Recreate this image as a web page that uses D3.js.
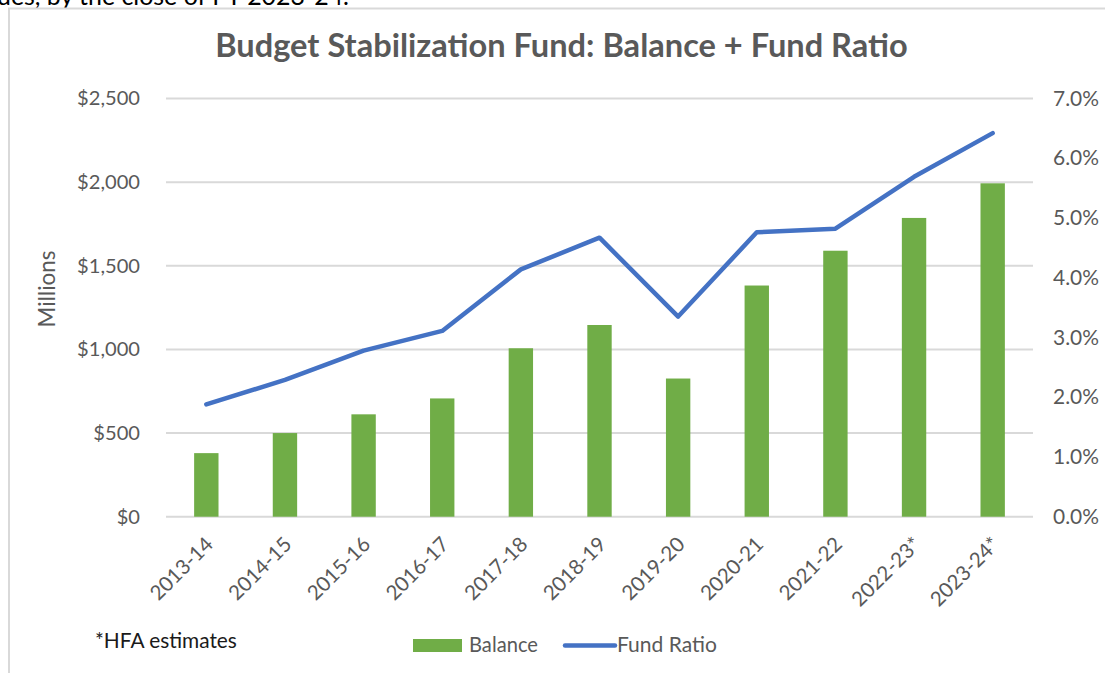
<!DOCTYPE html>
<html>
<head>
<meta charset="utf-8">
<script src="https://cdn.jsdelivr.net/npm/d3@7"></script>
<style>
  html, body { margin: 0; padding: 0; background: #fff; overflow: hidden; }
  svg { display: block; font-family: Lato, "Open Sans", sans-serif; }
</style>
</head>
<body>
<svg id="chart" width="1105" height="673"></svg>
<script>
// ---- data ----
const categories = ["2013-14","2014-15","2015-16","2016-17","2017-18","2018-19","2019-20","2020-21","2021-22","2022-23*","2023-24*"];
const balance = [380, 500, 612, 707, 1007, 1146, 826, 1382, 1590, 1786, 1993];      // $ millions
const fundRatio = [1.88, 2.29, 2.78, 3.11, 4.14, 4.67, 3.35, 4.76, 4.82, 5.69, 6.42]; // percent
const leftTicks = [0, 500, 1000, 1500, 2000, 2500];
const rightTicks = [0, 1, 2, 3, 4, 5, 6, 7];
const titleText = "Budget Stabilization Fund: Balance + Fund Ratio";
const noteText = "*HFA estimates";
const topText = "ues, by the close of FY 2023-24.";

// ---- layout ----
const svg = d3.select("#chart");
const plot = { left: 167, right: 1032, top: 98.5, bottom: 516.7 };
const grey = "#595959", gridCol = "#d9d9d9";
const barCol = "#70ad47", lineCol = "#4472c4";

function fit(sel, w) {
  const n = sel.node();
  const fs = parseFloat(sel.attr("font-size"));
  const cur = n.getComputedTextLength();
  sel.attr("font-size", (fs * w / cur).toFixed(2));
  return sel;
}

// cropped text at top
fit(svg.append("text").attr("x", -3).attr("y", 5).attr("font-size", 22)
  .attr("fill", "#000").text(topText), 352);

// frame
svg.append("path").attr("d", "M9,673 V8.5 H1105").attr("fill", "none")
  .attr("stroke", gridCol).attr("stroke-width", 2);

const x = d3.scaleBand().domain(categories).range([plot.left, plot.right])
  .paddingInner(0.69).paddingOuter(0.345);
const y = d3.scaleLinear().domain([0, 2500]).range([plot.bottom, plot.top]);
const y2 = d3.scaleLinear().domain([0, 7]).range([plot.bottom, plot.top]);

// gridlines
svg.append("g").selectAll("line").data(leftTicks).join("line")
  .attr("x1", plot.left - 1).attr("x2", plot.right + 1)
  .attr("y1", d => y(d)).attr("y2", d => y(d))
  .attr("stroke", gridCol).attr("stroke-width", 2);

// left axis
const fmtL = d => "$" + d3.format(",")(d);
const la = svg.append("g").attr("transform", `translate(${plot.left},0)`)
  .call(d3.axisLeft(y).tickValues(leftTicks).tickFormat(fmtL).tickSize(0).tickPadding(27));
la.select(".domain").remove();
la.selectAll("text").attr("fill", grey).attr("font-size", 20).attr("font-family", "Lato");
{
  const t = la.selectAll("text").filter(d => d === 2500);
  const w = t.node().getComputedTextLength();
  la.selectAll("text").attr("font-size", (20 * 63 / w).toFixed(2));
}

// right axis
const ra = svg.append("g").attr("transform", `translate(${plot.right},0)`)
  .call(d3.axisRight(y2).tickValues(rightTicks).tickFormat(d => d.toFixed(1) + "%").tickSize(0).tickPadding(21));
ra.select(".domain").remove();
ra.selectAll("text").attr("fill", grey).attr("font-size", 20).attr("font-family", "Lato");
{
  const t = ra.selectAll("text").filter(d => d === 7);
  const w = t.node().getComputedTextLength();
  ra.selectAll("text").attr("font-size", (20 * 46 / w).toFixed(2));
}

// bottom axis labels
const ba = svg.append("g").attr("transform", `translate(0,${plot.bottom})`)
  .call(d3.axisBottom(x).tickSize(0).tickPadding(0));
ba.select(".domain").remove();
ba.selectAll("text")
  .attr("fill", grey).attr("font-size", 19).attr("font-family", "Lato")
  .attr("text-anchor", "end").attr("dy", 0).attr("y", 0)
  .attr("transform", "translate(8,29) rotate(-45)");
{
  const t = ba.selectAll("text").filter(d => d === "2013-14");
  const w = t.node().getComputedTextLength();
  ba.selectAll("text").attr("font-size", (19 * 79 / w).toFixed(2));
}

// bars
svg.append("g").selectAll("rect").data(categories).join("rect")
  .attr("x", d => x(d)).attr("width", x.bandwidth())
  .attr("y", (d, i) => y(balance[i]))
  .attr("height", (d, i) => y(0) - y(balance[i]))
  .attr("fill", barCol);

// line
const line = d3.line()
  .x((d, i) => x(categories[i]) + x.bandwidth() / 2)
  .y(d => y2(d));
svg.append("path").datum(fundRatio).attr("d", line)
  .attr("fill", "none").attr("stroke", lineCol).attr("stroke-width", 4.5)
  .attr("stroke-linejoin", "round").attr("stroke-linecap", "round");

// title
fit(svg.append("text").attr("x", 561.5).attr("y", 57).attr("text-anchor", "middle")
  .attr("font-size", 26).attr("font-weight", "bold").attr("fill", grey).text(titleText), 693);

// y axis title
fit(svg.append("text").attr("transform", "translate(55,289) rotate(-90)")
  .attr("text-anchor", "middle").attr("font-size", 20).attr("fill", grey).text("Millions"), 77);

// note
fit(svg.append("text").attr("x", 95).attr("y", 648).attr("font-size", 19)
  .attr("fill", "#1a1a1a").text(noteText), 142);

// legend
const lg = svg.append("g");
lg.append("rect").attr("x", 413).attr("y", 639).attr("width", 49).attr("height", 13).attr("fill", barCol);
fit(lg.append("text").attr("x", 469).attr("y", 652).attr("font-size", 20).attr("fill", grey).text("Balance"), 69);
lg.append("line").attr("x1", 565).attr("x2", 615).attr("y1", 645.5).attr("y2", 645.5)
  .attr("stroke", lineCol).attr("stroke-width", 4.5).attr("stroke-linecap", "round");
fit(lg.append("text").attr("x", 617).attr("y", 652).attr("font-size", 20).attr("fill", grey).text("Fund Ratio"), 100);
</script>
</body>
</html>
